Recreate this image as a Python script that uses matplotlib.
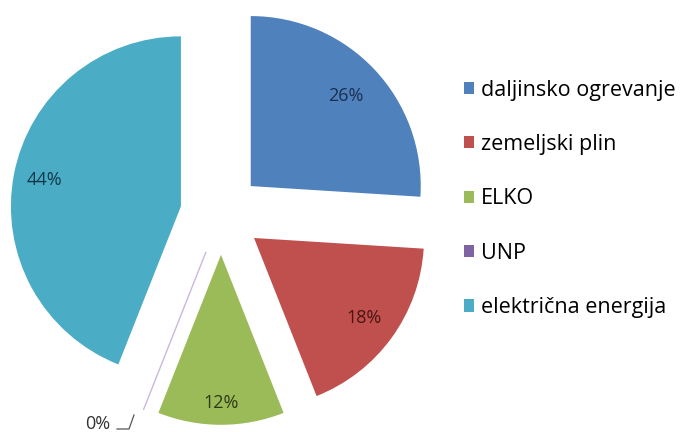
import numpy as np
import matplotlib.pyplot as plt
from matplotlib.patches import Patch

# podatki
labels = ['daljinsko ogrevanje', 'zemeljski plin', 'ELKO', 'UNP', 'električna energija']
shares = [26, 18, 12, 0, 44]
colors = ['#4F81BD', '#C0504D', '#9BBB59', '#8064A2', '#4BACC6']
pct_colors = ['#1c2f4f', '#4a1412', '#2e3a14', '#333333', '#10394a']
pct_dist = [0.77, 0.8, 0.87, 0.8, 0.82]

plt.rcParams['font.family'] = ['Open Sans', 'DejaVu Sans']

fig = plt.figure(figsize=(6.81, 4.32), dpi=100)
ax = fig.add_axes([0, 0, 1, 1])

r_px = 170.0
cx, cy = 221, 214  # center of the pie in pixels (from top-left)

wedges, texts, autotexts = ax.pie(
    shares, colors=colors, startangle=90, counterclock=False,
    explode=[0.24] * len(shares), autopct='%d%%', pctdistance=0.8,
    textprops={'fontsize': 13})

for w in wedges:
    w.set_edgecolor('none')
# the 0% slice shows up only as a thin line
wedges[3].set_edgecolor('#c9b8dc')
wedges[3].set_linewidth(1.0)

for w, t, c, d in zip(wedges, autotexts, pct_colors, pct_dist):
    t.set_color(c)
    th = np.deg2rad((w.theta1 + w.theta2) / 2)
    x0, y0 = w.center
    t.set_position((x0 + d * np.cos(th), y0 + d * np.sin(th)))

# 0% label sits outside with a small leader
autotexts[3].set_visible(False)
zero_x, zero_y = (98 - cx) / r_px, (cy - 424) / r_px
ax.text(zero_x, zero_y, '0%', fontsize=13, color='#333333', ha='center', va='center')
ax.plot([(117 - cx) / r_px, (129 - cx) / r_px, (134 - cx) / r_px],
        [(cy - 429) / r_px, (cy - 429) / r_px, (cy - 415) / r_px],
        color='#555555', lw=0.9)

ax.set_xlim(-cx / r_px, (681 - cx) / r_px)
ax.set_ylim(-(432 - cy) / r_px, cy / r_px)
ax.set_aspect('auto')
ax.axis('off')

handles = [Patch(facecolor=c, edgecolor='none') for c in colors]
leg = fig.legend(handles, labels, loc='upper left', bbox_to_anchor=(455 / 681, 1 - 71 / 432),
                 frameon=False, fontsize=15.5, handlelength=0.5, handleheight=0.5,
                 handletextpad=0.3, labelspacing=1.55, borderaxespad=0)

plt.savefig('out.png', dpi=100)
